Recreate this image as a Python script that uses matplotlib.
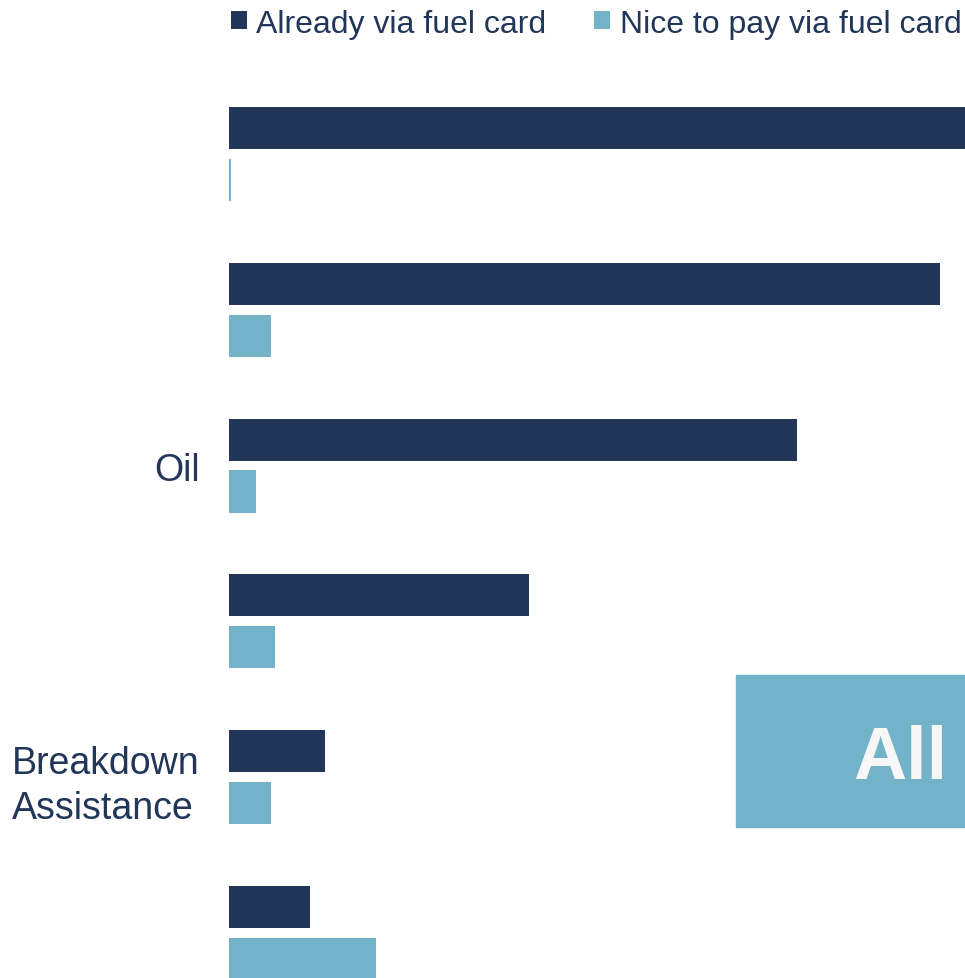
import numpy as np
import matplotlib
matplotlib.use("Agg")
import matplotlib.pyplot as plt
from matplotlib.patches import Rectangle

plt.rcParams['font.family'] = ['Liberation Sans', 'DejaVu Sans']

# data (percent of respondents)
categories = ['', '', 'Oil', '', 'Breakdown\nAssistance', '']
already = [100.0, 96.6, 77.2, 40.8, 13.0, 11.0]
nice_to_pay = [0.3, 5.7, 3.7, 6.3, 5.7, 20.0]
series_labels = ['Already via fuel card', 'Nice to pay via fuel card']

dark = '#213659'
light = '#72b3ca'
text_col = '#213659'

fig = plt.figure(figsize=(9.65, 9.79), dpi=100)
ax = fig.add_axes([229 / 965, 0.0, 1 - 229 / 965, 1.0])

ind = np.arange(len(categories))
height = 0.27
off = 0.1667
b1 = ax.barh(ind - off, already, height, color=dark, label=series_labels[0])
b2 = ax.barh(ind + off, nice_to_pay, height, color=light, label=series_labels[1])

ax.set_xlim(0, 100)
ax.set_ylim(5.289, -0.994)
ax.set_yticks(ind)
ax.set_yticklabels(categories, fontsize=27, color=text_col)
for lab in ax.get_yticklabels():
    lab.set_multialignment('left')
    lab.set_linespacing(1.3)
ax.tick_params(axis='y', length=0, pad=21)
ax.set_xticks([])
for s in ax.spines.values():
    s.set_visible(False)

fig.legend(handles=[b1, b2], labels=series_labels, loc='upper left',
           bbox_to_anchor=(221 / 965, 1.0), ncol=2, frameon=False,
           fontsize=23, labelcolor=text_col, handlelength=0.5, handleheight=0.5,
           handletextpad=0.3, columnspacing=1.5, borderpad=0.1, borderaxespad=0.2)

# "All" badge
fig.patches.append(Rectangle((736 / 965, 1 - 828 / 979), 1 - 736 / 965, 152 / 979,
                             transform=fig.transFigure, color=light, zorder=5))
fig.text(947 / 965, 1 - 779 / 979, 'All', ha='right', va='baseline',
         fontsize=53, fontweight='bold', color='#f7f7f7', zorder=6)

fig.savefig('out.png', dpi=100)
